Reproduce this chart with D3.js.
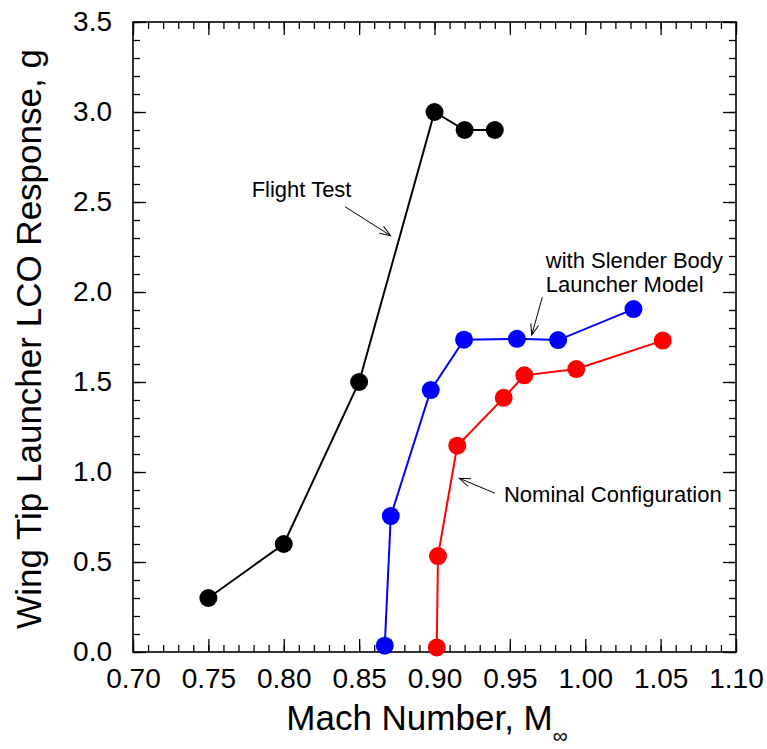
<!DOCTYPE html>
<html>
<head>
<meta charset="utf-8">
<script src="https://cdn.jsdelivr.net/npm/d3@7"></script>
<style>
  body { margin: 0; background: #fff; }
  svg { font-family: "Liberation Sans", Arial, Helvetica, sans-serif; }
</style>
</head>
<body>
<div id="chart"></div>
<script>
'use strict';

// data
var flightMach = [0.75, 0.80, 0.85, 0.90, 0.92, 0.94];
var flightG    = [0.30, 0.60, 1.50, 3.00, 2.90, 2.90];

var slenderMach = [0.867, 0.871, 0.8975, 0.9196, 0.9547, 0.982, 1.032];
var slenderG    = [0.035, 0.755, 1.455, 1.735, 1.740, 1.733, 1.905];

var nominalMach = [0.9015, 0.9023, 0.9151, 0.9459, 0.9596, 0.9941, 1.0514];
var nominalG    = [0.025, 0.533, 1.146, 1.412, 1.537, 1.572, 1.730];

var xTicks = [0.70, 0.75, 0.80, 0.85, 0.90, 0.95, 1.00, 1.05, 1.10];
var yTicks = [0.0, 0.5, 1.0, 1.5, 2.0, 2.5, 3.0, 3.5];

var series = [
  { mach: flightMach, g: flightG, color: '#000000' },
  { mach: slenderMach, g: slenderG, color: '#0000ff' },
  { mach: nominalMach, g: nominalG, color: '#ff0000' }
];

// annotation text and arrows, in data units
var notes = [
  { lines: ['Flight Test'], x: 0.7787, y: 2.526, ax1: 0.8406, ay1: 2.474, ax2: 0.8709, ay2: 2.313 },
  { lines: ['with Slender Body', 'Launcher Model'], x: 0.9738, y: 2.133, ax1: 0.9715, ay1: 1.971, ax2: 0.9645, ay2: 1.761 },
  { lines: ['Nominal Configuration'], x: 0.9461, y: 0.832, ax1: 0.9401, ay1: 0.882, ax2: 0.9165, ay2: 0.965 }
];

var W = 767, H = 749;
var margin = { top: 22, right: 31, bottom: 97, left: 133 };
var width = W - margin.left - margin.right;
var height = H - margin.top - margin.bottom;

var svg = d3.select('#chart').append('svg')
  .attr('width', W)
  .attr('height', H);

var g = svg.append('g')
  .attr('transform', 'translate(' + margin.left + ',' + margin.top + ')');

var x = d3.scaleLinear().domain([0.70, 1.10]).range([0, width]);
var y = d3.scaleLinear().domain([0, 3.5]).range([height, 0]);

var xMinor = d3.range(70, 111, 1).map(function(v) { return v / 100; });
var yMinor = d3.range(0, 36, 1).map(function(v) { return v / 10; });

function styleAxis(sel) {
  sel.select('.domain').remove();
  sel.selectAll('line').attr('stroke', '#000').attr('stroke-width', 1.3);
}

// minor ticks on all sides
g.append('g').attr('transform', 'translate(0,' + height + ')')
  .call(d3.axisBottom(x).tickValues(xMinor).tickSize(-7).tickFormat(''))
  .call(styleAxis);
g.append('g')
  .call(d3.axisTop(x).tickValues(xMinor).tickSize(-7).tickFormat(''))
  .call(styleAxis);
g.append('g')
  .call(d3.axisLeft(y).tickValues(yMinor).tickSize(-7).tickFormat(''))
  .call(styleAxis);
g.append('g').attr('transform', 'translate(' + width + ',0)')
  .call(d3.axisRight(y).tickValues(yMinor).tickSize(-7).tickFormat(''))
  .call(styleAxis);

// major ticks
g.append('g').attr('transform', 'translate(0,' + height + ')')
  .call(d3.axisBottom(x).tickValues(xTicks).tickSize(-13).tickPadding(16).tickFormat(d3.format('.2f')))
  .call(styleAxis)
  .selectAll('text').attr('font-size', 28).attr('fill', '#000')
  .attr('font-family', '"Liberation Sans", Arial, sans-serif');
g.append('g')
  .call(d3.axisTop(x).tickValues(xTicks).tickSize(-13).tickFormat(''))
  .call(styleAxis);
g.append('g')
  .call(d3.axisLeft(y).tickValues(yTicks).tickSize(-13).tickPadding(21).tickFormat(d3.format('.1f')))
  .call(styleAxis)
  .selectAll('text').attr('font-size', 28).attr('fill', '#000')
  .attr('font-family', '"Liberation Sans", Arial, sans-serif');
g.append('g').attr('transform', 'translate(' + width + ',0)')
  .call(d3.axisRight(y).tickValues(yTicks).tickSize(-13).tickFormat(''))
  .call(styleAxis);

// frame
g.append('rect')
  .attr('width', width)
  .attr('height', height)
  .attr('fill', 'none')
  .attr('stroke', '#000')
  .attr('stroke-width', 1.6);

// series
var line = d3.line()
  .x(function(d) { return x(d[0]); })
  .y(function(d) { return y(d[1]); });

series.forEach(function(s) {
  var pts = s.mach.map(function(m, i) { return [m, s.g[i]]; });
  g.append('path')
    .datum(pts)
    .attr('d', line)
    .attr('fill', 'none')
    .attr('stroke', s.color)
    .attr('stroke-width', 2);
  g.selectAll(null)
    .data(pts)
    .enter()
    .append('circle')
    .attr('cx', function(d) { return x(d[0]); })
    .attr('cy', function(d) { return y(d[1]); })
    .attr('r', 9)
    .attr('fill', s.color);
});

// annotations
svg.append('defs').append('marker')
  .attr('id', 'arr')
  .attr('markerUnits', 'userSpaceOnUse')
  .attr('markerWidth', 14)
  .attr('markerHeight', 12)
  .attr('refX', 12)
  .attr('refY', 6)
  .attr('orient', 'auto')
  .append('path')
  .attr('d', 'M1,2 L12,6 L1,10')
  .attr('fill', 'none')
  .attr('stroke', '#000')
  .attr('stroke-width', 1);

notes.forEach(function(n) {
  var t = g.append('text')
    .attr('x', x(n.x))
    .attr('y', y(n.y))
    .attr('font-size', 22)
    .attr('fill', '#000');
  n.lines.forEach(function(l, i) {
    t.append('tspan')
      .attr('x', x(n.x))
      .attr('dy', i === 0 ? 0 : 23.7)
      .text(l);
  });
  g.append('line')
    .attr('x1', x(n.ax1)).attr('y1', y(n.ay1))
    .attr('x2', x(n.ax2)).attr('y2', y(n.ay2))
    .attr('stroke', '#000')
    .attr('stroke-width', 1)
    .attr('marker-end', 'url(#arr)');
});

// axis titles
var xt = svg.append('text')
  .attr('x', 427)
  .attr('y', 730)
  .attr('text-anchor', 'middle')
  .attr('font-size', 35)
  .attr('fill', '#000');
xt.append('tspan').text('Mach Number, M');
xt.append('tspan').attr('dy', 13).attr('font-size', 21).text('\u221e');

svg.append('text')
  .attr('transform', 'translate(41,' + (margin.top + height / 2 + 2) + ') rotate(-90)')
  .attr('text-anchor', 'middle')
  .attr('font-size', 35)
  .attr('fill', '#000')
  .text('Wing Tip Launcher LCO Response, g');
</script>
</body>
</html>
